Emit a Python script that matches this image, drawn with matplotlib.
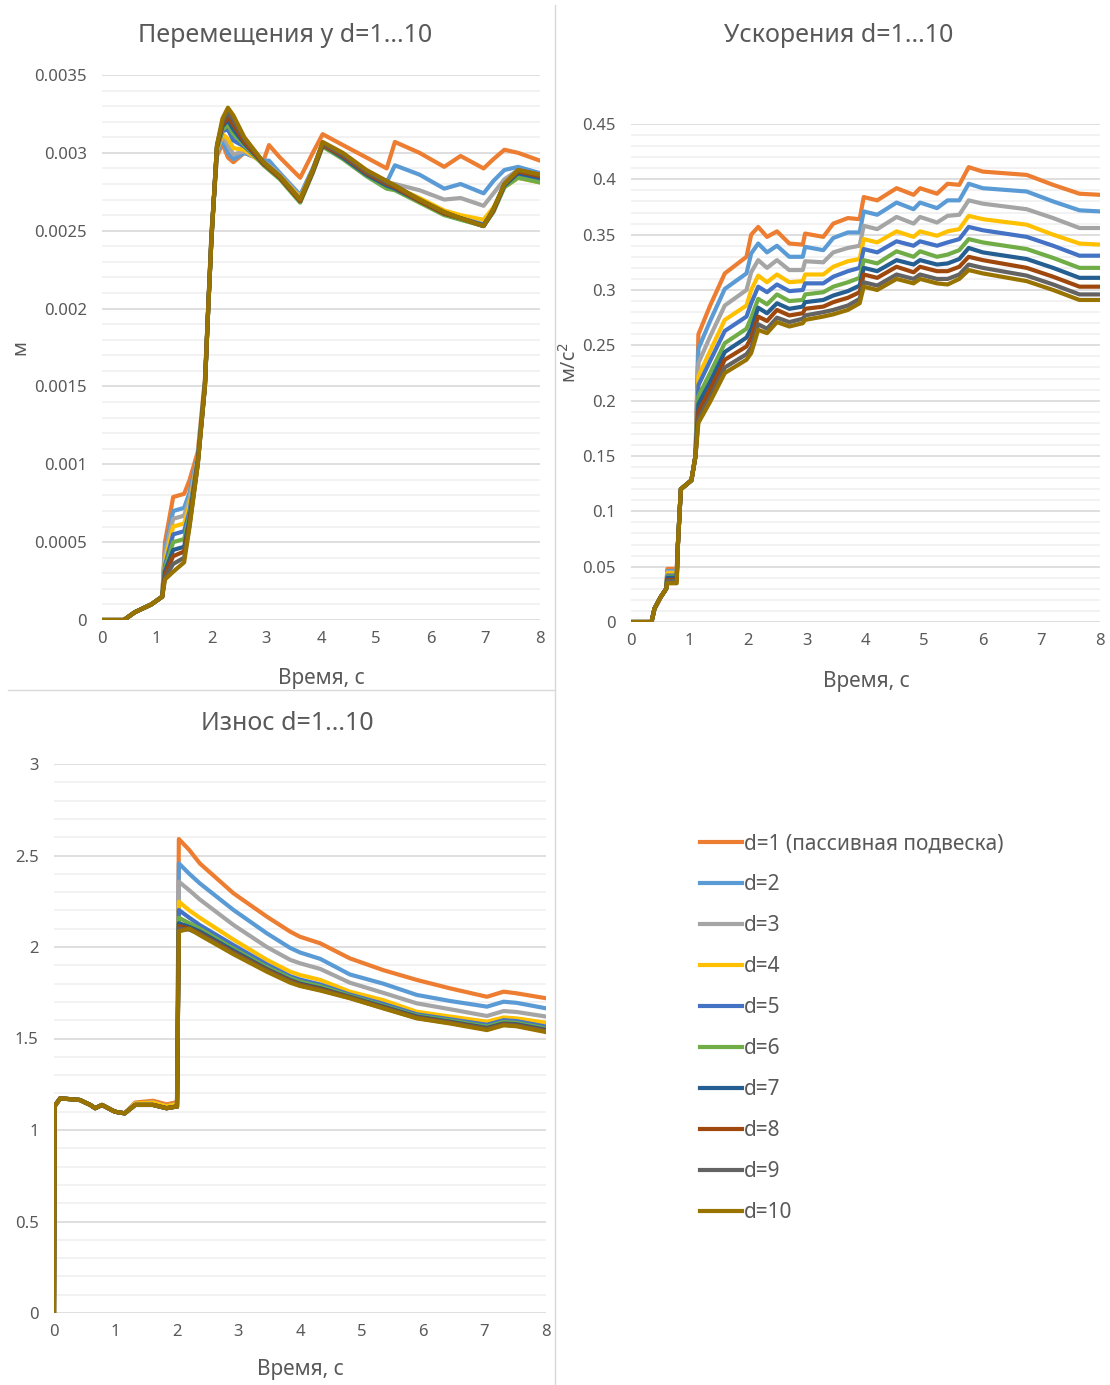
import matplotlib
matplotlib.use("Agg")
import matplotlib.pyplot as plt
from matplotlib.ticker import MultipleLocator, FuncFormatter
from matplotlib.lines import Line2D

plt.rcParams['font.family'] = ['Noto Sans', 'DejaVu Sans']

# подписи серий и цвета (палитра Excel)
labels = ['d=1 (пассивная подвеска)', 'd=2', 'd=3', 'd=4', 'd=5',
          'd=6', 'd=7', 'd=8', 'd=9', 'd=10']
colors = ['#ED7D31', '#5B9BD5', '#A5A5A5', '#FFC000', '#4472C4',
          '#70AD47', '#255E91', '#9E480E', '#636363', '#997300']

# ---------- перемещения, мм (переводятся в м при построении) ----------
t_disp = [0, 0.4, 0.6, 0.9, 1.1, 1.15, 1.3, 1.5, 1.6, 1.75, 1.88, 1.94, 2.0, 2.1,
          2.2, 2.3, 2.4, 2.6, 2.95, 3.05, 3.25, 3.62, 3.85, 4.03, 4.4, 4.83, 5.2,
          5.35, 5.8, 6.25, 6.55, 6.97, 7.15, 7.35, 7.6, 8.0]
disp_mm = [
    [0, 0, 0.05, 0.10, 0.15, 0.50, 0.79, 0.81, 0.90, 1.08, 1.55, 2.02, 2.50, 2.98,
     3.06, 2.97, 2.94, 3.00, 2.95, 3.05, 2.97, 2.84, 3.00, 3.12, 3.05, 2.97, 2.90,
     3.07, 3.00, 2.91, 2.98, 2.90, 2.96, 3.02, 3.00, 2.95],
    [0, 0, 0.05, 0.10, 0.15, 0.45, 0.70, 0.72, 0.82, 1.05, 1.53, 2.01, 2.48, 3.00,
     3.08, 3.00, 2.96, 3.00, 2.95, 2.95, 2.87, 2.73, 2.90, 3.06, 2.98, 2.88, 2.81,
     2.92, 2.86, 2.77, 2.80, 2.74, 2.82, 2.89, 2.91, 2.87],
    [0, 0, 0.05, 0.10, 0.15, 0.42, 0.65, 0.67, 0.78, 1.04, 1.52, 2.00, 2.47, 3.01,
     3.11, 3.05, 2.99, 3.01, 2.94, 2.92, 2.86, 2.72, 2.89, 3.06, 2.99, 2.88, 2.81,
     2.80, 2.76, 2.70, 2.71, 2.66, 2.74, 2.83, 2.89, 2.86],
    [0, 0, 0.05, 0.10, 0.15, 0.38, 0.60, 0.62, 0.74, 1.03, 1.52, 2.00, 2.47, 3.02,
     3.12, 3.09, 3.03, 3.02, 2.93, 2.91, 2.85, 2.71, 2.88, 3.05, 2.97, 2.87, 2.80,
     2.78, 2.71, 2.63, 2.60, 2.57, 2.65, 2.78, 2.84, 2.81],
    [0, 0, 0.05, 0.10, 0.15, 0.35, 0.55, 0.57, 0.70, 1.03, 1.51, 2.00, 2.46, 3.03,
     3.14, 3.15, 3.08, 3.04, 2.93, 2.90, 2.84, 2.70, 2.88, 3.05, 2.97, 2.86, 2.79,
     2.77, 2.69, 2.61, 2.58, 2.54, 2.63, 2.79, 2.86, 2.83],
    [0, 0, 0.05, 0.10, 0.15, 0.33, 0.50, 0.52, 0.67, 1.02, 1.51, 2.00, 2.46, 3.03,
     3.15, 3.18, 3.12, 3.05, 2.92, 2.89, 2.83, 2.68, 2.87, 3.04, 2.96, 2.85, 2.77,
     2.76, 2.68, 2.60, 2.57, 2.53, 2.62, 2.78, 2.84, 2.81],
    [0, 0, 0.05, 0.10, 0.15, 0.31, 0.45, 0.47, 0.65, 1.02, 1.51, 2.00, 2.46, 3.04,
     3.17, 3.21, 3.15, 3.06, 2.93, 2.90, 2.84, 2.69, 2.88, 3.05, 2.97, 2.86, 2.79,
     2.77, 2.69, 2.61, 2.58, 2.53, 2.63, 2.79, 2.87, 2.84],
    [0, 0, 0.05, 0.10, 0.15, 0.29, 0.41, 0.44, 0.63, 1.01, 1.50, 2.00, 2.45, 3.04,
     3.18, 3.23, 3.18, 3.07, 2.93, 2.90, 2.84, 2.69, 2.88, 3.05, 2.98, 2.87, 2.80,
     2.78, 2.69, 2.61, 2.58, 2.53, 2.63, 2.80, 2.88, 2.85],
    [0, 0, 0.05, 0.10, 0.15, 0.27, 0.36, 0.40, 0.61, 1.00, 1.50, 2.00, 2.45, 3.05,
     3.20, 3.26, 3.21, 3.09, 2.94, 2.91, 2.85, 2.70, 2.89, 3.06, 2.99, 2.88, 2.81,
     2.79, 2.70, 2.62, 2.58, 2.53, 2.64, 2.80, 2.89, 2.86],
    [0, 0, 0.05, 0.10, 0.15, 0.26, 0.31, 0.37, 0.60, 1.00, 1.50, 2.00, 2.45, 3.05,
     3.22, 3.29, 3.24, 3.10, 2.94, 2.91, 2.85, 2.70, 2.89, 3.07, 3.00, 2.89, 2.82,
     2.79, 2.70, 2.62, 2.58, 2.53, 2.64, 2.80, 2.89, 2.86],
]

# ---------- ускорения, м/с^2 ----------
t_acc = [0, 0.35, 0.4, 0.5, 0.6, 0.62, 0.78, 0.8, 0.85, 1.03, 1.1, 1.15, 1.35, 1.6,
         1.97, 2.05, 2.17, 2.32, 2.49, 2.7, 2.93, 2.97, 3.28, 3.45, 3.7, 3.9, 3.97,
         4.2, 4.53, 4.82, 4.93, 5.22, 5.4, 5.6, 5.76, 6.0, 6.75, 7.2, 7.65, 8.0]
acc = [
    [0, 0, 0.012, 0.022, 0.030, 0.048, 0.048, 0.070, 0.120, 0.128, 0.150,
     .260, .286, .315, .330, .350, .357, .348, .353, .342, .341, .351, .348, .360, .365,
     .364, .384, .381, .392, .386, .392, .387, .396, .395, .411, .407, .404, .395, .387, .386],
    [0, 0, 0.012, 0.022, 0.030, 0.046, 0.046, 0.070, 0.120, 0.128, 0.150,
     .247, .272, .301, .315, .333, .342, .334, .340, .330, .330, .339, .336, .347, .352,
     .352, .371, .368, .379, .373, .379, .374, .381, .381, .396, .392, .389, .380, .372, .371],
    [0, 0, 0.012, 0.022, 0.030, 0.045, 0.045, 0.070, 0.120, 0.128, 0.150,
     .234, .258, .286, .300, .316, .327, .320, .327, .318, .318, .326, .325, .334, .338,
     .340, .358, .355, .366, .360, .366, .361, .367, .368, .381, .378, .373, .365, .356, .356],
    [0, 0, 0.012, 0.022, 0.030, 0.044, 0.044, 0.070, 0.120, 0.128, 0.150,
     .222, .245, .273, .286, .300, .313, .307, .314, .307, .308, .314, .314, .321, .326,
     .328, .346, .343, .353, .348, .353, .349, .353, .355, .367, .364, .359, .350, .342, .341],
    [0, 0, 0.012, 0.022, 0.030, 0.042, 0.042, 0.070, 0.120, 0.128, 0.150,
     .214, .236, .263, .276, .288, .303, .298, .305, .299, .300, .306, .306, .312, .317,
     .320, .337, .334, .344, .340, .344, .340, .343, .346, .357, .354, .348, .340, .331, .331],
    [0, 0, 0.012, 0.022, 0.030, 0.041, 0.041, 0.070, 0.120, 0.128, 0.150,
     .204, .225, .252, .265, .275, .292, .287, .296, .290, .291, .296, .298, .303, .307,
     .311, .327, .324, .335, .330, .335, .330, .332, .336, .346, .343, .337, .329, .320, .320],
    [0, 0, 0.012, 0.022, 0.030, 0.040, 0.040, 0.070, 0.120, 0.128, 0.150,
     .197, .217, .244, .257, .265, .284, .279, .288, .283, .285, .289, .291, .295, .299,
     .304, .320, .317, .327, .323, .327, .323, .324, .328, .338, .334, .328, .320, .311, .311],
    [0, 0, 0.012, 0.022, 0.030, 0.038, 0.038, 0.070, 0.120, 0.128, 0.150,
     .190, .210, .237, .249, .257, .276, .272, .282, .277, .279, .283, .285, .289, .293,
     .298, .314, .311, .321, .316, .321, .317, .317, .321, .330, .327, .320, .312, .303, .303],
    [0, 0, 0.012, 0.022, 0.030, 0.037, 0.037, 0.070, 0.120, 0.128, 0.150,
     .184, .203, .230, .242, .248, .269, .265, .275, .271, .274, .277, .280, .282, .286,
     .292, .307, .304, .314, .310, .314, .310, .310, .314, .323, .320, .313, .305, .296, .296],
    [0, 0, 0.012, 0.022, 0.030, 0.035, 0.035, 0.070, 0.120, 0.128, 0.150,
     .180, .199, .225, .237, .243, .264, .261, .271, .267, .270, .273, .276, .278, .282,
     .288, .303, .300, .310, .306, .310, .306, .305, .310, .318, .315, .308, .300, .291, .291],
]

# ---------- износ ----------
t_wear = [0, 0.01, 0.1, 0.42, 0.59, 0.67, 0.78, 0.99, 1.15, 1.32, 1.61, 1.83, 1.97,
          2.0, 2.03, 2.2, 2.37, 2.92, 3.46, 3.84, 4.0, 4.33, 4.81, 5.35, 5.9, 6.44,
          7.04, 7.31, 7.52, 8.0]
wear = [
    [0, 1.13, 1.173, 1.164, 1.137, 1.119, 1.137, 1.10, 1.091, 1.15, 1.16, 1.14, 1.15, 1.15,
     2.59, 2.53, 2.457, 2.293, 2.166, 2.084, 2.056, 2.02, 1.938, 1.874, 1.82, 1.774, 1.728,
     1.756, 1.747, 1.72],
    [0, 1.13, 1.173, 1.164, 1.137, 1.119, 1.137, 1.10, 1.091, 1.145, 1.15, 1.13, 1.14, 1.14,
     2.457, 2.40, 2.348, 2.202, 2.075, 1.995, 1.970, 1.935, 1.85, 1.80, 1.738, 1.705, 1.674,
     1.701, 1.695, 1.665],
    [0, 1.13, 1.173, 1.164, 1.137, 1.119, 1.137, 1.10, 1.091, 1.145, 1.15, 1.13, 1.14, 1.14,
     2.357, 2.31, 2.26, 2.12, 2.00, 1.93, 1.911, 1.88, 1.805, 1.75, 1.692, 1.66, 1.623,
     1.65, 1.645, 1.62],
    [0, 1.13, 1.173, 1.164, 1.137, 1.119, 1.137, 1.10, 1.091, 1.145, 1.15, 1.13, 1.14, 1.14,
     2.248, 2.20, 2.16, 2.04, 1.93, 1.865, 1.847, 1.82, 1.756, 1.71, 1.646, 1.62, 1.592,
     1.615, 1.61, 1.586],
    [0, 1.13, 1.173, 1.164, 1.137, 1.119, 1.137, 1.10, 1.091, 1.137, 1.137, 1.119, 1.127, 1.127,
     2.202, 2.16, 2.12, 2.01, 1.905, 1.84, 1.822, 1.795, 1.74, 1.69, 1.632, 1.605, 1.575,
     1.60, 1.595, 1.565],
    [0, 1.13, 1.173, 1.164, 1.137, 1.119, 1.137, 1.10, 1.091, 1.137, 1.137, 1.119, 1.127, 1.127,
     2.16, 2.13, 2.10, 1.99, 1.89, 1.83, 1.81, 1.785, 1.733, 1.68, 1.625, 1.598, 1.565,
     1.59, 1.585, 1.555],
    [0, 1.13, 1.173, 1.164, 1.137, 1.119, 1.137, 1.10, 1.091, 1.137, 1.137, 1.119, 1.127, 1.127,
     2.13, 2.11, 2.085, 1.98, 1.88, 1.82, 1.80, 1.775, 1.728, 1.675, 1.62, 1.592, 1.558,
     1.582, 1.578, 1.548],
    [0, 1.13, 1.173, 1.164, 1.137, 1.119, 1.137, 1.10, 1.091, 1.137, 1.137, 1.119, 1.127, 1.127,
     2.115, 2.10, 2.075, 1.97, 1.875, 1.815, 1.795, 1.77, 1.725, 1.67, 1.615, 1.588, 1.553,
     1.578, 1.573, 1.543],
    [0, 1.13, 1.173, 1.164, 1.137, 1.119, 1.137, 1.10, 1.091, 1.137, 1.137, 1.119, 1.127, 1.127,
     2.10, 2.095, 2.07, 1.965, 1.87, 1.81, 1.79, 1.765, 1.722, 1.667, 1.612, 1.585, 1.55,
     1.575, 1.57, 1.54],
    [0, 1.13, 1.173, 1.164, 1.137, 1.119, 1.137, 1.10, 1.091, 1.137, 1.137, 1.119, 1.127, 1.127,
     2.085, 2.10, 2.065, 1.96, 1.865, 1.805, 1.787, 1.762, 1.72, 1.665, 1.61, 1.582, 1.546,
     1.572, 1.567, 1.535],
]

GRAY = '#595959'
W, H = 1110, 1385

fig = plt.figure(figsize=(W / 100, H / 100), dpi=100)


def box(l, t, r, b):
    # перевод пиксельных границ области построения в доли фигуры
    return [l / W, 1 - b / H, (r - l) / W, (b - t) / H]


def setup(ax, ymax, major, minor):
    ax.set_xlim(0, 8)
    ax.set_ylim(0, ymax)
    ax.xaxis.set_major_locator(MultipleLocator(1))
    ax.yaxis.set_major_locator(MultipleLocator(major))
    ax.yaxis.set_minor_locator(MultipleLocator(minor))
    ax.yaxis.set_major_formatter(FuncFormatter(lambda v, p: '%g' % round(v, 6)))
    ax.grid(which='major', axis='y', color='#D9D9D9', lw=1.2)
    ax.grid(which='minor', axis='y', color='#F0F0F0', lw=1.2)
    ax.set_axisbelow(True)
    for s in ax.spines.values():
        s.set_visible(False)
    ax.tick_params(which='both', length=0, labelsize=12, colors=GRAY)
    ax.tick_params(axis='y', pad=11)
    ax.tick_params(axis='x', pad=8)


ax1 = fig.add_axes(box(102, 75, 540, 620))
for k in range(10):
    ax1.plot(t_disp, [v / 1000 for v in disp_mm[k]], color=colors[k], lw=3,
             solid_joinstyle='round')
setup(ax1, 0.0035, 0.0005, 0.0001)

ax2 = fig.add_axes(box(631, 124, 1100, 622))
for k in range(10):
    ax2.plot(t_acc, acc[k], color=colors[k], lw=3, solid_joinstyle='round')
setup(ax2, 0.45, 0.05, 0.01)

ax3 = fig.add_axes(box(54, 764, 546, 1313))
for k in range(10):
    ax3.plot(t_wear, wear[k], color=colors[k], lw=3, solid_joinstyle='round')
setup(ax3, 3, 0.5, 0.1)

# заголовки и подписи осей
tkw = dict(color=GRAY, ha='center', va='center')
fig.text(285 / W, 1 - 36 / H, 'Перемещения у d=1...10', fontsize=18, **tkw)
fig.text(839 / W, 1 - 36 / H, 'Ускорения d=1...10', fontsize=18, **tkw)
fig.text(287 / W, 1 - 724 / H, 'Износ d=1...10', fontsize=18, **tkw)
fig.text(321 / W, 1 - 678 / H, 'Время, с', fontsize=15, **tkw)
fig.text(866 / W, 1 - 682 / H, 'Время, с', fontsize=15, **tkw)
fig.text(300 / W, 1 - 1370 / H, 'Время, с', fontsize=15, **tkw)
fig.text(20 / W, 1 - 348 / H, 'м', fontsize=14, rotation=90, **tkw)
fig.text(570 / W, 1 - 362 / H, 'м/с$^2$', fontsize=14, rotation=90, **tkw)

# разделительные линии между диаграммами
fig.add_artist(Line2D([555 / W, 555 / W], [0, 1 - 5 / H], color='#D9D9D9', lw=1))
fig.add_artist(Line2D([8 / W, 555 / W], [1 - 690 / H, 1 - 690 / H], color='#D9D9D9', lw=1))

# легенда
handles = [Line2D([], [], color=c, lw=3) for c in colors]
fig.legend(handles, labels, loc='upper left', bbox_to_anchor=(692 / W, 1 - 825 / H),
           frameon=False, fontsize=15, labelcolor=GRAY, handlelength=2.0,
           handletextpad=0.1, labelspacing=0.96, borderaxespad=0)

fig.savefig('out.png', dpi=100, facecolor='white')
